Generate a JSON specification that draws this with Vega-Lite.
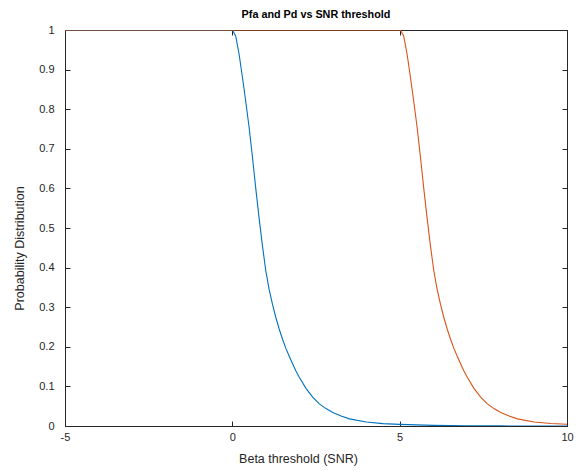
{
  "$schema": "https://vega.github.io/schema/vega-lite/v6.json",
  "width": 502,
  "height": 396,
  "autosize": "none",
  "padding": {"left": 65, "top": 30, "right": 9, "bottom": 46},
  "background": "white",
  "title": {"text": "Pfa and Pd vs SNR threshold", "fontSize": 10.8, "fontWeight": "bold", "font": "Liberation Sans", "color": "#000000", "offset": 4},
  "config": {
    "view": {"stroke": "#262626", "strokeWidth": 1},
    "axis": {"grid": false, "domainColor": "#262626", "tickColor": "#262626", "labelColor": "#262626", "titleColor": "#262626", "labelFont": "Liberation Sans", "titleFont": "Liberation Sans", "labelFontSize": 11, "titleFontSize": 12.5, "titleFontWeight": "normal", "tickSize": -5, "domainWidth": 1, "tickWidth": 1, "labelFlush": false}
  },
  "data": {"values": [
    {"x": -5, "y": 1, "s": "Pfa"}, {"x": 0, "y": 1, "s": "Pfa"}, {"x": 0.1, "y": 0.985, "s": "Pfa"}, {"x": 0.2, "y": 0.94, "s": "Pfa"}, {"x": 0.3, "y": 0.882, "s": "Pfa"}, {"x": 0.4, "y": 0.82, "s": "Pfa"}, {"x": 0.5, "y": 0.755, "s": "Pfa"}, {"x": 0.6, "y": 0.68, "s": "Pfa"}, {"x": 0.7, "y": 0.6, "s": "Pfa"}, {"x": 0.8, "y": 0.525, "s": "Pfa"}, {"x": 0.9, "y": 0.455, "s": "Pfa"}, {"x": 1.0, "y": 0.392, "s": "Pfa"}, {"x": 1.1, "y": 0.345, "s": "Pfa"}, {"x": 1.2, "y": 0.307, "s": "Pfa"}, {"x": 1.3, "y": 0.274, "s": "Pfa"}, {"x": 1.4, "y": 0.245, "s": "Pfa"}, {"x": 1.5, "y": 0.219, "s": "Pfa"}, {"x": 1.6, "y": 0.196, "s": "Pfa"}, {"x": 1.7, "y": 0.176, "s": "Pfa"}, {"x": 1.8, "y": 0.157, "s": "Pfa"}, {"x": 1.9, "y": 0.139, "s": "Pfa"}, {"x": 2.0, "y": 0.123, "s": "Pfa"}, {"x": 2.2, "y": 0.095, "s": "Pfa"}, {"x": 2.4, "y": 0.073, "s": "Pfa"}, {"x": 2.6, "y": 0.056, "s": "Pfa"}, {"x": 2.8, "y": 0.044, "s": "Pfa"}, {"x": 3.0, "y": 0.034, "s": "Pfa"}, {"x": 3.25, "y": 0.025, "s": "Pfa"}, {"x": 3.5, "y": 0.018, "s": "Pfa"}, {"x": 4.0, "y": 0.01, "s": "Pfa"}, {"x": 4.5, "y": 0.006, "s": "Pfa"}, {"x": 5.0, "y": 0.004, "s": "Pfa"}, {"x": 6.0, "y": 0.0015, "s": "Pfa"}, {"x": 7.0, "y": 0.0006, "s": "Pfa"}, {"x": 8.0, "y": 0.0002, "s": "Pfa"}, {"x": 10.0, "y": 0.00003, "s": "Pfa"},
    {"x": -5, "y": 1, "s": "Pd"}, {"x": 5.02, "y": 1, "s": "Pd"}, {"x": 5.12, "y": 0.985, "s": "Pd"}, {"x": 5.22, "y": 0.94, "s": "Pd"}, {"x": 5.32, "y": 0.882, "s": "Pd"}, {"x": 5.42, "y": 0.82, "s": "Pd"}, {"x": 5.52, "y": 0.755, "s": "Pd"}, {"x": 5.62, "y": 0.68, "s": "Pd"}, {"x": 5.72, "y": 0.6, "s": "Pd"}, {"x": 5.82, "y": 0.525, "s": "Pd"}, {"x": 5.92, "y": 0.455, "s": "Pd"}, {"x": 6.02, "y": 0.392, "s": "Pd"}, {"x": 6.12, "y": 0.345, "s": "Pd"}, {"x": 6.22, "y": 0.307, "s": "Pd"}, {"x": 6.32, "y": 0.274, "s": "Pd"}, {"x": 6.42, "y": 0.245, "s": "Pd"}, {"x": 6.52, "y": 0.219, "s": "Pd"}, {"x": 6.62, "y": 0.196, "s": "Pd"}, {"x": 6.72, "y": 0.176, "s": "Pd"}, {"x": 6.82, "y": 0.157, "s": "Pd"}, {"x": 6.92, "y": 0.139, "s": "Pd"}, {"x": 7.02, "y": 0.123, "s": "Pd"}, {"x": 7.22, "y": 0.095, "s": "Pd"}, {"x": 7.42, "y": 0.073, "s": "Pd"}, {"x": 7.62, "y": 0.056, "s": "Pd"}, {"x": 7.82, "y": 0.044, "s": "Pd"}, {"x": 8.02, "y": 0.034, "s": "Pd"}, {"x": 8.27, "y": 0.025, "s": "Pd"}, {"x": 8.52, "y": 0.018, "s": "Pd"}, {"x": 9.02, "y": 0.01, "s": "Pd"}, {"x": 9.52, "y": 0.0065, "s": "Pd"}, {"x": 10.0, "y": 0.0045, "s": "Pd"}
  ]},
  "layer": [
    {
      "mark": {"type": "line", "strokeWidth": 1.1, "clip": true},
      "encoding": {
        "x": {"field": "x", "type": "quantitative", "scale": {"domain": [-5, 10], "nice": false, "zero": false},
          "axis": {"orient": "bottom", "values": [-5, 0, 5, 10], "labelExpr": "toString(datum.value)", "title": "Beta threshold (SNR)", "labelPadding": 10, "titlePadding": 10, "titleX": 233, "titleAlign": "center"}},
        "y": {"field": "y", "type": "quantitative", "scale": {"domain": [0, 1], "nice": false},
          "axis": {"orient": "left", "values": [0, 0.1, 0.2, 0.3, 0.4, 0.5, 0.6, 0.7, 0.8, 0.9, 1], "labelExpr": "toString(round(datum.value*10)/10)", "title": "Probability Distribution", "labelPadding": 16, "titlePadding": 12, "titleY": 218, "titleAlign": "center"}},
        "color": {"field": "s", "type": "nominal", "scale": {"domain": ["Pfa", "Pd"], "range": ["#0072BD", "#D95319"]}, "legend": null}
      }
    },
    {
      "mark": {"type": "line", "opacity": 0},
      "encoding": {
        "x": {"field": "x", "type": "quantitative", "axis": {"orient": "top", "values": [-5, 0, 5, 10], "labels": false, "title": null}},
        "y": {"field": "y", "type": "quantitative", "axis": {"orient": "right", "values": [0, 0.1, 0.2, 0.3, 0.4, 0.5, 0.6, 0.7, 0.8, 0.9, 1], "labels": false, "title": null}},
        "detail": {"field": "s", "type": "nominal"}
      }
    }
  ],
  "resolve": {"axis": {"x": "independent", "y": "independent"}}
}
